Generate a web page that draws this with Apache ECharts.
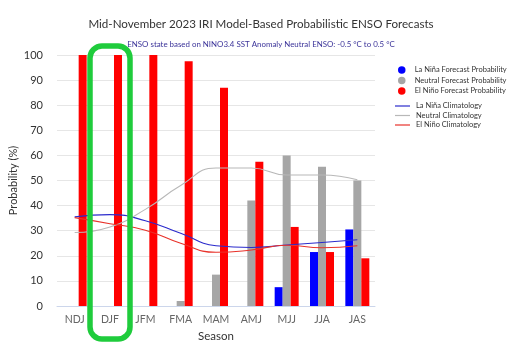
<!DOCTYPE html>
<html><head><meta charset="utf-8">
<script src="https://cdn.jsdelivr.net/npm/echarts@6/dist/echarts.min.js"></script>
<style>html,body{margin:0;padding:0;background:#fff}#c{width:519px;height:343px}</style>
</head><body><div id="c"></div>
<script>
var seasons = ['NDJ','DJF','JFM','FMA','MAM','AMJ','MJJ','JJA','JAS'];
var laninaForecast = [0,0,0,0,0,0,7.5,21.5,30.5];
var neutralForecast = [0,0,0,2,12.5,42,60,55.5,50];
var elninoForecast = [100,100,100,97.5,87,57.5,31.5,21.5,19];
var laninaClim = [35.5,36.4,34,29,24,23.3,24.3,25.3,26.4];
var neutralClim = [29.3,31.5,38.5,48,55,55,52.2,52.2,50.3];
var elninoClim = [35.2,32.8,30.2,25,21.4,22.3,24.2,23.2,24];
var yTicks = [0,10,20,30,40,50,60,70,80,90,100];
var highlighted = 'DJF';

var chart = echarts.init(document.getElementById('c'));
var ff = 'Lato, "Open Sans", sans-serif';
var barS = function(name, data, color){return {name:name,type:'bar',data:data,barWidth:8,barGap:'0%',itemStyle:{color:color},animation:false};};
var lineS = function(name, data, color){return {name:name,type:'line',data:data,smooth:0.5,symbol:'none',lineStyle:{color:color,width:1.1},itemStyle:{color:color},animation:false,z:3};};
var lineIcon = 'path://M0,0 L20,0 L20,1.6 L0,1.6 Z';
chart.setOption({
  animation:false,
  title:[{text:'Mid-November 2023 IRI Model-Based Probabilistic ENSO Forecasts',left:256,top:13,textAlign:'center',textStyle:{fontSize:11.6,fontWeight:'normal',color:'#333',fontFamily:ff}},
         {text:'ENSO state based on NINO3.4 SST Anomaly Neutral ENSO: -0.5 °C to 0.5 °C',left:256,top:35,textAlign:'center',textStyle:{fontSize:7.9,fontWeight:'normal',color:'#3b3399',fontFamily:ff}}],
  legend:[{data:['La Niña Forecast Probability','Neutral Forecast Probability','El Niño Forecast Probability'],orient:'vertical',left:393,top:61,itemGap:2.5,itemWidth:8,itemHeight:7.5,icon:'circle',textStyle:{fontSize:7.5,color:'#333',fontFamily:ff,padding:[0,0,0,4]}},
          {data:['La Niña Climatology','Neutral Climatology','El Niño Climatology'],orient:'vertical',left:390,top:97,itemGap:1.5,itemWidth:15,itemHeight:8,icon:lineIcon,textStyle:{fontSize:7.5,color:'#333',fontFamily:ff,padding:[0,0,0,1]}}],
  grid:{left:57,right:144,top:55,bottom:37,outerBoundsMode:'none',containLabel:false},
  xAxis:{type:'category',data:seasons,axisTick:{show:false},axisLine:{lineStyle:{color:'#ccd6eb'}},axisLabel:{color:'#666',fontSize:10.5,fontFamily:ff,margin:8},
         name:'Season',nameLocation:'middle',nameGap:24,nameTextStyle:{fontSize:11.5,color:'#333',fontFamily:ff}},
  yAxis:{type:'value',min:yTicks[0],max:yTicks[yTicks.length-1],interval:10,axisLabel:{color:'#333',fontSize:11,fontFamily:ff,margin:14},
         splitLine:{lineStyle:{color:'#e6e6e6'}},name:'Probability (%)',nameLocation:'middle',nameGap:38,nameMoveOverlap:false,nameTextStyle:{fontSize:11,color:'#333',fontFamily:ff}},
  series:[barS('La Niña Forecast Probability',laninaForecast,'#0000ff'),
          barS('Neutral Forecast Probability',neutralForecast,'#a6a6a6'),
          barS('El Niño Forecast Probability',elninoForecast,'#ff0000'),
          lineS('La Niña Climatology',laninaClim,'#2b2bcc'),
          lineS('Neutral Climatology',neutralClim,'#b8b8b8'),
          lineS('El Niño Climatology',elninoClim,'#e8322a')]
});
var cx = chart.convertToPixel({xAxisIndex:0}, highlighted);
chart.setOption({graphic:[{type:'rect',shape:{x:cx-20,y:46,width:40,height:293,r:12},style:{fill:'none',stroke:'#1fcc3c',lineWidth:5.5},z:10}]});
</script></body></html>
